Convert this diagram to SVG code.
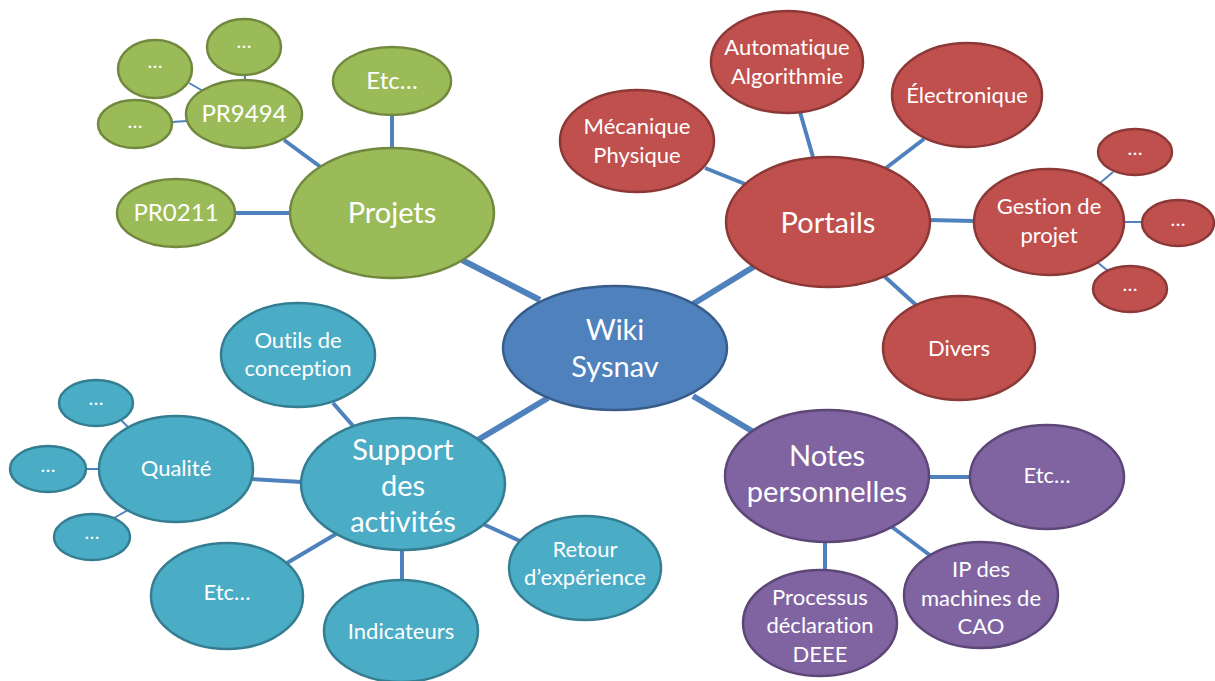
<svg xmlns="http://www.w3.org/2000/svg" width="1215" height="681" viewBox="0 0 1215 681">
<style>
.g{fill:#9BBB59;stroke:#71893F;stroke-width:2.5}
.r{fill:#C0504D;stroke:#8C3836;stroke-width:2.5}
.b{fill:#4F81BD;stroke:#385D8A;stroke-width:2.5}
.t{fill:#4BACC6;stroke:#357D91;stroke-width:2.5}
.p{fill:#8064A2;stroke:#5C4776;stroke-width:2.5}
text{font-family:Lato,"Open Sans","Liberation Sans",sans-serif;fill:#fff;text-anchor:middle;dominant-baseline:central;transform:translateY(-2px);font-variant-ligatures:none;font-feature-settings:"liga" 0,"dlig" 0}
.L{font-size:29px}
.M{font-size:24px}
.S{font-size:22px}
.d{font-size:20px}
#connectors line{stroke:#4F81BD;stroke-linecap:butt}
.w1{stroke-width:6}
.w2{stroke-width:4}
.w3{stroke-width:2}
</style>
<rect width="1215" height="681" fill="#fff"/>
<g id="connectors">
<line class="w1" x1="540" y1="300" x2="462" y2="260"/>
<line class="w1" x1="693" y1="304" x2="755" y2="266"/>
<line class="w1" x1="548" y1="398" x2="476" y2="441"/>
<line class="w1" x1="693" y1="396" x2="757" y2="434"/>
<line class="w2" x1="284" y1="140" x2="322" y2="168"/>
<line class="w2" x1="392" y1="116" x2="392" y2="148"/>
<line class="w2" x1="235" y1="213" x2="291" y2="213"/>
<line class="w3" x1="245" y1="75" x2="245" y2="80"/>
<line class="w3" x1="189" y1="83" x2="203" y2="91"/>
<line class="w3" x1="172" y1="122" x2="187" y2="121"/>
<line class="w2" x1="705" y1="168" x2="745" y2="184"/>
<line class="w2" x1="800" y1="112" x2="813" y2="157"/>
<line class="w2" x1="924" y1="139" x2="886" y2="168"/>
<line class="w2" x1="929" y1="220" x2="974" y2="221"/>
<line class="w2" x1="884" y1="276" x2="916" y2="305"/>
<line class="w3" x1="1100" y1="183" x2="1113" y2="172"/>
<line class="w3" x1="1124" y1="222" x2="1142" y2="222"/>
<line class="w3" x1="1097" y1="262" x2="1108" y2="271"/>
<line class="w2" x1="333" y1="403" x2="354" y2="427"/>
<line class="w2" x1="251" y1="479" x2="302" y2="482"/>
<line class="w2" x1="287" y1="563" x2="336" y2="534"/>
<line class="w2" x1="402" y1="549" x2="402" y2="582"/>
<line class="w2" x1="483" y1="524" x2="520" y2="541"/>
<line class="w3" x1="121" y1="420" x2="129" y2="428"/>
<line class="w3" x1="85" y1="469" x2="100" y2="469"/>
<line class="w3" x1="114" y1="518" x2="128" y2="510"/>
<line class="w2" x1="928" y1="477" x2="971" y2="477"/>
<line class="w2" x1="892" y1="527" x2="931" y2="556"/>
<line class="w2" x1="825" y1="541" x2="825" y2="571"/>
</g>
<g id="wiki"><ellipse class="b" cx="615" cy="348" rx="112" ry="62"/><text class="L" x="615" y="330">Wiki</text><text class="L" x="615" y="367">Sysnav</text></g>
<g id="projets"><ellipse class="g" cx="392" cy="213" rx="102" ry="65"/><text class="L" x="392" y="213">Projets</text></g>
<g id="pr9494"><ellipse class="g" cx="244" cy="114" rx="58" ry="34"/><text class="M" x="244" y="114">PR9494</text></g>
<g id="pr0211"><ellipse class="g" cx="176" cy="213" rx="59" ry="34"/><text class="M" x="176" y="213">PR0211</text></g>
<g id="etc-projets"><ellipse class="g" cx="392" cy="81" rx="59" ry="34"/><text class="M" x="392" y="81">Etc…</text></g>
<g id="pr9494-a"><ellipse class="g" cx="244" cy="47" rx="37" ry="28"/><text class="d" x="244" y="42">…</text></g>
<g id="pr9494-b"><ellipse class="g" cx="155" cy="69" rx="37" ry="29"/><text class="d" x="155" y="62">…</text></g>
<g id="pr9494-c"><ellipse class="g" cx="135" cy="124" rx="37" ry="24"/><text class="d" x="135" y="122">…</text></g>
<g id="portails"><ellipse class="r" cx="828" cy="222" rx="102" ry="65"/><text class="L" x="828" y="223">Portails</text></g>
<g id="automatique"><ellipse class="r" cx="787" cy="62" rx="76" ry="51"/><text class="S" x="787" y="48">Automatique</text><text class="S" x="787" y="77">Algorithmie</text></g>
<g id="electronique"><ellipse class="r" cx="967" cy="95" rx="75" ry="52"/><text class="S" x="967" y="96">Électronique</text></g>
<g id="mecanique"><ellipse class="r" cx="637" cy="141" rx="77" ry="51"/><text class="S" x="637" y="127">Mécanique</text><text class="S" x="637" y="156">Physique</text></g>
<g id="gestion"><ellipse class="r" cx="1049" cy="222" rx="75" ry="53"/><text class="S" x="1049" y="207">Gestion de</text><text class="S" x="1049" y="236">projet</text></g>
<g id="gestion-a"><ellipse class="r" cx="1135" cy="152" rx="37" ry="23"/><text class="d" x="1135" y="149">…</text></g>
<g id="gestion-b"><ellipse class="r" cx="1178" cy="223" rx="36" ry="23"/><text class="d" x="1178" y="220">…</text></g>
<g id="gestion-c"><ellipse class="r" cx="1130" cy="289" rx="37" ry="23"/><text class="d" x="1130" y="285">…</text></g>
<g id="divers"><ellipse class="r" cx="959" cy="348" rx="76" ry="52"/><text class="S" x="959" y="349">Divers</text></g>
<g id="support"><ellipse class="t" cx="403" cy="484" rx="102" ry="66"/><text class="L" x="403" y="450">Support</text><text class="L" x="403" y="486">des</text><text class="L" x="403" y="522">activités</text></g>
<g id="outils"><ellipse class="t" cx="298" cy="355" rx="77" ry="52"/><text class="S" x="298" y="341">Outils de</text><text class="S" x="298" y="369">conception</text></g>
<g id="qualite"><ellipse class="t" cx="176" cy="469" rx="77" ry="53"/><text class="S" x="176" y="469">Qualité</text></g>
<g id="qualite-a"><ellipse class="t" cx="96" cy="403" rx="37" ry="23"/><text class="d" x="96" y="399">…</text></g>
<g id="qualite-b"><ellipse class="t" cx="48" cy="469" rx="38" ry="23"/><text class="d" x="48" y="466">…</text></g>
<g id="qualite-c"><ellipse class="t" cx="92" cy="537" rx="38" ry="23"/><text class="d" x="92" y="533">…</text></g>
<g id="etc-support"><ellipse class="t" cx="227" cy="596" rx="76" ry="53"/><text class="S" x="227" y="593">Etc…</text></g>
<g id="indicateurs"><ellipse class="t" cx="401" cy="631" rx="77" ry="51"/><text class="S" x="401" y="632">Indicateurs</text></g>
<g id="retour"><ellipse class="t" cx="585" cy="568" rx="76" ry="52"/><text class="S" x="585" y="550">Retour</text><text class="S" x="585" y="578">d’expérience</text></g>
<g id="notes"><ellipse class="p" cx="827" cy="476" rx="102" ry="66"/><text class="L" x="827" y="456">Notes</text><text class="L" x="827" y="492">personnelles</text></g>
<g id="etc-notes"><ellipse class="p" cx="1047" cy="477" rx="77" ry="52"/><text class="S" x="1047" y="476">Etc…</text></g>
<g id="ip"><ellipse class="p" cx="981" cy="595" rx="77" ry="53"/><text class="S" x="981" y="570">IP des</text><text class="S" x="981" y="599">machines de</text><text class="S" x="981" y="627">CAO</text></g>
<g id="processus"><ellipse class="p" cx="820" cy="623" rx="77" ry="53"/><text class="S" x="820" y="598">Processus</text><text class="S" x="820" y="626">déclaration</text><text class="S" x="820" y="655">DEEE</text></g>
</svg>
